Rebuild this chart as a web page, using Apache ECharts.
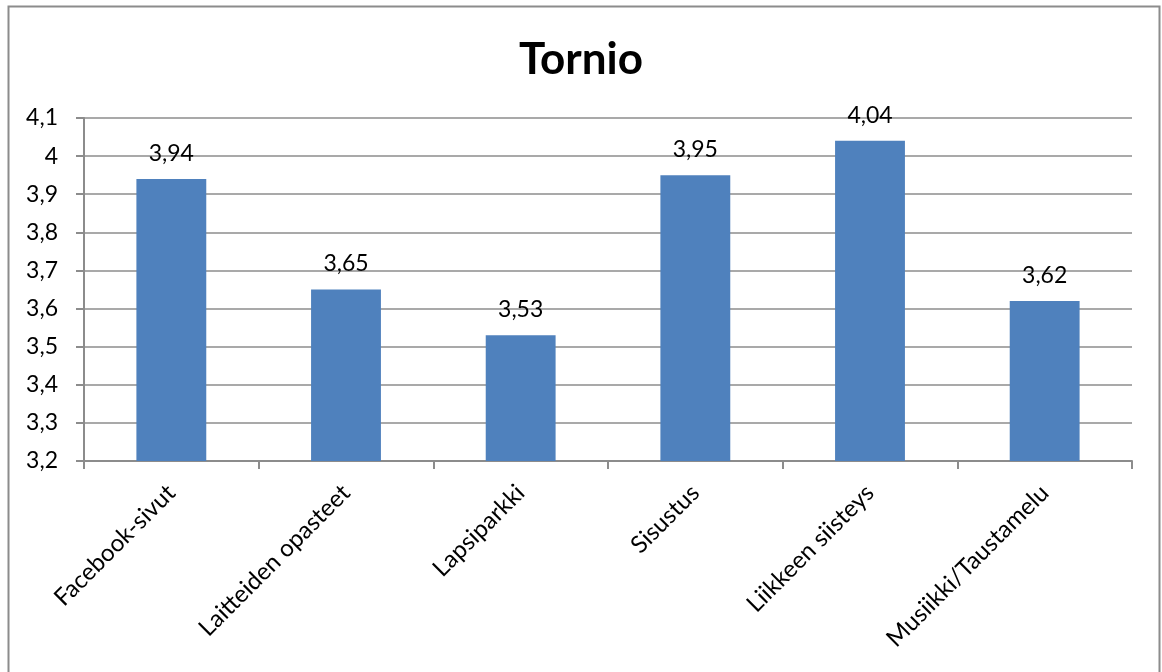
<!DOCTYPE html>
<html>
<head>
<meta charset="utf-8">
<script src="https://cdn.jsdelivr.net/npm/echarts@6/dist/echarts.min.js"></script>
<style>
  html, body { margin: 0; padding: 0; background: #fff; }
  #chart { width: 1162px; height: 672px; }
</style>
</head>
<body>
<div id="chart"></div>
<script>
// Tornio: average ratings per topic
const categories = ['Facebook-sivut', 'Laitteiden opasteet', 'Lapsiparkki', 'Sisustus', 'Liikkeen siisteys', 'Musiikki/Taustamelu'];
const values = [3.94, 3.65, 3.53, 3.95, 4.04, 3.62];
const yMin = 3.2;
const yMax = 4.1;
const yStep = 0.1;

const fmt = v => String(Math.round(v * 100) / 100).replace('.', ',');
const fontFamily = 'Lato, "Open Sans", sans-serif';

const chart = echarts.init(document.getElementById('chart'), null, { renderer: 'canvas' });
chart.setOption({
  animation: false,
  backgroundColor: '#ffffff',
  title: {
    text: 'Tornio',
    left: 'center',
    top: 33,
    textStyle: { fontFamily, fontSize: 44, fontWeight: 'bold', color: '#000' }
  },
  graphic: [{
    type: 'rect',
    shape: { x: 8.5, y: 6.5, width: 1151, height: 680 },
    style: { fill: null, stroke: '#8c8c8c', lineWidth: 2 },
    silent: true
  }],
  grid: { left: 84, right: 30, top: 118, bottom: 211, containLabel: false },
  xAxis: {
    type: 'category',
    data: categories,
    axisLine: { lineStyle: { color: '#8c8c8c', width: 2 } },
    axisTick: { show: true, alignWithLabel: false, length: 8, lineStyle: { color: '#8c8c8c', width: 2 } },
    axisLabel: {
      rotate: 45, interval: 0, margin: 28,
      fontFamily, fontSize: 24, color: '#000'
    }
  },
  yAxis: {
    type: 'value',
    min: yMin, max: yMax, interval: yStep,
    axisLine: { show: true, lineStyle: { color: '#8c8c8c', width: 2 } },
    axisTick: { show: true, length: 8, lineStyle: { color: '#8c8c8c', width: 2 } },
    splitLine: { show: true, lineStyle: { color: '#8c8c8c', width: 1.5 } },
    axisLabel: {
      margin: 26, fontFamily, fontSize: 23, color: '#000',
      formatter: v => fmt(v)
    }
  },
  series: [{
    type: 'bar',
    data: values,
    barWidth: '40%',
    itemStyle: { color: '#4f81bd' },
    label: {
      show: true, position: 'top', distance: 14,
      fontFamily, fontSize: 23, color: '#000',
      formatter: p => fmt(p.value)
    }
  }]
});
</script>
</body>
</html>
